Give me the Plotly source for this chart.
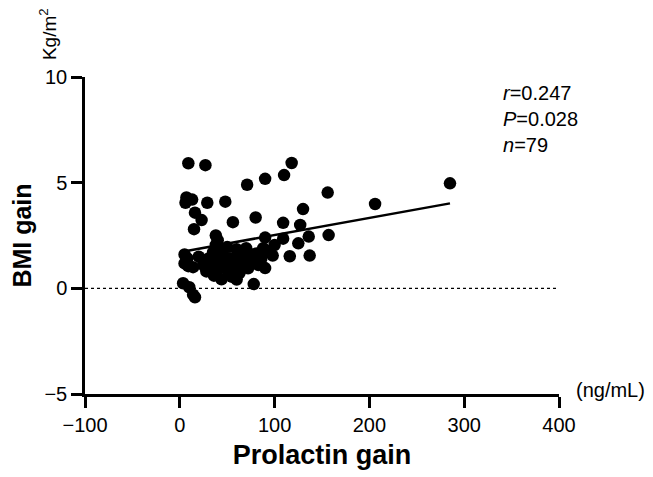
import plotly.graph_objects as go

# Scatter data: prolactin gain (ng/mL) vs BMI gain (kg/m2)
prolactin_gain = [
    9, 27, 118, 110, 90, 71, 156, 285, 206, 7,
    13, 6, 29, 48, 16, 130, 23, 56, 80, 109,
    127, 15, 157, 136, 38, 40, 90, 109, 125, 137,
    116, 98, 38, 44, 88, 70, 81, 62, 53, 42,
    8, 5, 5, 9, 14, 25, 26, 33, 83, 70,
    65, 90, 28, 40, 51, 63, 44, 60, 78, 3.5,
    10, 14, 16, 20, 30, 35, 47, 50, 56, 60,
    66, 74, 76, 86, 94, 100, 36, 55, 72,
]
bmi_gain = [
    5.92, 5.83, 5.93, 5.36, 5.18, 4.90, 4.53, 4.97, 3.99, 4.30,
    4.20, 4.05, 4.05, 4.10, 3.58, 3.75, 3.23, 3.13, 3.35, 3.10,
    3.00, 2.80, 2.52, 2.45, 2.50, 2.28, 2.40, 2.35, 2.13, 1.55,
    1.52, 1.55, 2.05, 1.72, 1.90, 1.90, 1.65, 1.50, 1.42, 1.42,
    1.42, 1.60, 1.18, 1.05, 1.00, 1.25, 1.05, 1.10, 1.10, 1.40,
    1.24, 0.96, 0.80, 0.87, 0.80, 0.72, 0.43, 0.42, 0.20, 0.24,
    0.05, -0.30, -0.42, 1.50, 1.40, 1.70, 1.15, 1.95, 1.10, 1.85,
    1.65, 1.25, 1.60, 1.40, 1.75, 2.05, 0.60, 0.55, 0.95,
]

# Regression line
reg_x = [7, 285]
reg_y = [1.77, 4.02]

# Zero reference line
zero_x = [-100, 400]
zero_y = [0, 0]

x_ticks = [-100, 0, 100, 200, 300, 400]
x_tick_labels = ["\u2212100", "0", "100", "200", "300", "400"]
y_ticks = [-5, 0, 5, 10]
y_tick_labels = ["\u22125", "0", "5", "10"]

stats_lines = ["<i>r</i>=0.247", "<i>P</i>=0.028", "<i>n</i>=79"]

FONT = "Liberation Sans, Arial, Helvetica, sans-serif"

fig = go.Figure()
fig.add_trace(go.Scatter(
    x=zero_x, y=zero_y, mode="lines",
    line=dict(color="black", width=1.3, dash="dot"),
    hoverinfo="skip", showlegend=False,
))
fig.add_trace(go.Scatter(
    x=prolactin_gain, y=bmi_gain, mode="markers",
    marker=dict(color="black", size=12.5, line=dict(width=0)),
    showlegend=False,
))
fig.add_trace(go.Scatter(
    x=reg_x, y=reg_y, mode="lines",
    line=dict(color="black", width=2.5),
    showlegend=False,
))

axis_common = dict(
    showgrid=False, zeroline=False, showline=True, linecolor="black",
    linewidth=2.5, ticks="outside", ticklen=11, tickwidth=2.5,
    tickcolor="black", tickfont=dict(family=FONT, size=20, color="black"),
    automargin=False,
)

# The page body adds an 8px offset, so the figure is 8px smaller
fig.update_layout(
    width=645, height=469,
    margin=dict(l=77, r=94, t=69, b=83),
    plot_bgcolor="white", paper_bgcolor="white",
    font=dict(family=FONT, color="black"),
    xaxis=dict(
        range=[-100, 400], tickvals=x_ticks, ticktext=x_tick_labels,
        title=dict(text="<b>Prolactin gain</b>", font=dict(family=FONT, size=27), standoff=11),
        **axis_common,
    ),
    yaxis=dict(
        range=[-5, 10], tickvals=y_ticks, ticktext=y_tick_labels,
        title=dict(text="<b>BMI gain</b>", font=dict(family=FONT, size=25), standoff=17),
        **axis_common,
    ),
)

fig.add_annotation(
    text="<br>".join(stats_lines), xref="paper", yref="paper",
    x=0.878, y=0.99, xanchor="left", yanchor="top", align="left",
    showarrow=False, font=dict(family=FONT, size=20, color="black"),
)
fig.add_annotation(
    text="(ng/mL)", xref="paper", yref="paper",
    x=1.032, y=0.013, xanchor="left", yanchor="middle",
    showarrow=False, font=dict(family=FONT, size=20, color="black"),
)
fig.add_annotation(
    text="Kg/m<sup>2</sup>", xref="paper", yref="paper",
    x=-0.0795, y=1.048, xanchor="center", yanchor="bottom", textangle=-90,
    showarrow=False, font=dict(family=FONT, size=19, color="black"),
)

fig.write_html("out.html")
